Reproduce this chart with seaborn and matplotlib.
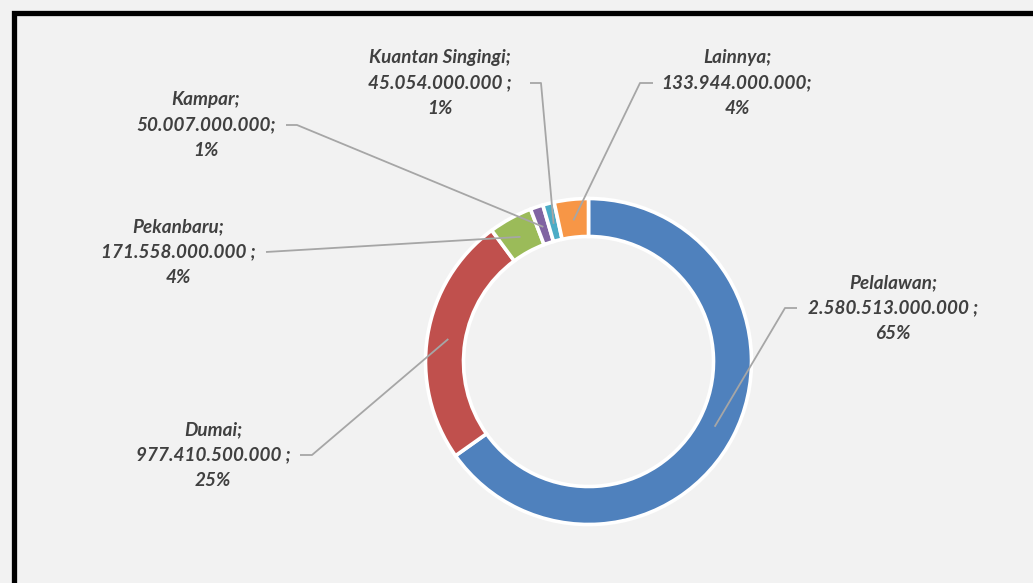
import numpy as np
import matplotlib
matplotlib.use("Agg")
import matplotlib.pyplot as plt
import seaborn as sns

# ---- data ----
regions = ["Pelalawan", "Dumai", "Pekanbaru", "Kampar", "Kuantan Singingi", "Lainnya"]
values = [2580513000000, 977410500000, 171558000000, 50007000000, 45054000000, 133944000000]
value_labels = ["2.580.513.000.000 ;", "977.410.500.000 ;", "171.558.000.000 ;",
                "50.007.000.000;", "45.054.000.000 ;", "133.944.000.000;"]
percent_labels = ["65%", "25%", "4%", "1%", "1%", "4%"]
colors = ["#4F81BD", "#C0504D", "#9BBB59", "#8064A2", "#4BACC6", "#F79646"]

sns.set_theme(style="white")
plt.rcParams["font.family"] = ["Lato", "DejaVu Sans"]

W, H = 1033, 583
fig = plt.figure(figsize=(W / 100, H / 100), dpi=100)
fig.patch.set_facecolor("#F2F2F2")
ax = fig.add_axes([0, 0, 1, 1])
ax.set_xlim(0, W)
ax.set_ylim(0, H)
ax.set_aspect("equal")
ax.axis("off")

# frame (top + left edges)
ax.plot([13.5, 13.5, W + 5], [-5, H - 12.5, H - 12.5], color="black", lw=3.8,
        solid_joinstyle="miter", zorder=1)

cx, cy = 588.5, H - 361.5
R = 163
width = 38
wedges, _ = ax.pie(values, colors=colors, startangle=90, counterclock=False,
                   radius=R, center=(cx, cy), frame=True,
                   wedgeprops=dict(width=width, edgecolor="white", linewidth=2.6))
ax.set_xlim(0, W)
ax.set_ylim(0, H)
ax.axis("off")

# label positions (image pixels: center x, center y)
label_pos = {
    "Pelalawan": (893, 308),
    "Dumai": (213, 455),
    "Pekanbaru": (178, 252),
    "Kampar": (206, 125),
    "Kuantan Singingi": (440, 83),
    "Lainnya": (737, 83),
}
elbow = {
    "Pelalawan": (797, 785),
    "Dumai": (300, 312),
    "Pekanbaru": (266, 266),
    "Kampar": (286, 297),
    "Kuantan Singingi": (530, 541),
    "Lainnya": (653, 640),
}

rmid = R - width / 2 - 2
for w, name, vl, pl in zip(wedges, regions, value_labels, percent_labels):
    ang = np.deg2rad((w.theta1 + w.theta2) / 2)
    ex, ey = cx + rmid * np.cos(ang), cy + rmid * np.sin(ang)
    tx, ty = label_pos[name]
    ax.text(tx, H - ty, f"{name};\n{vl}\n{pl}", ha="center", va="center",
            fontsize=13.6, fontweight="bold", fontstyle="italic", color="#404040",
            linespacing=1.6, zorder=5)
    x0, x1 = elbow[name]
    ly = H - ty
    ax.plot([x0, x1, ex], [ly, ly, ey], color="#A6A6A6", lw=1.3, zorder=4,
            solid_capstyle="butt")

fig.savefig("out.png", dpi=100, facecolor=fig.get_facecolor())
